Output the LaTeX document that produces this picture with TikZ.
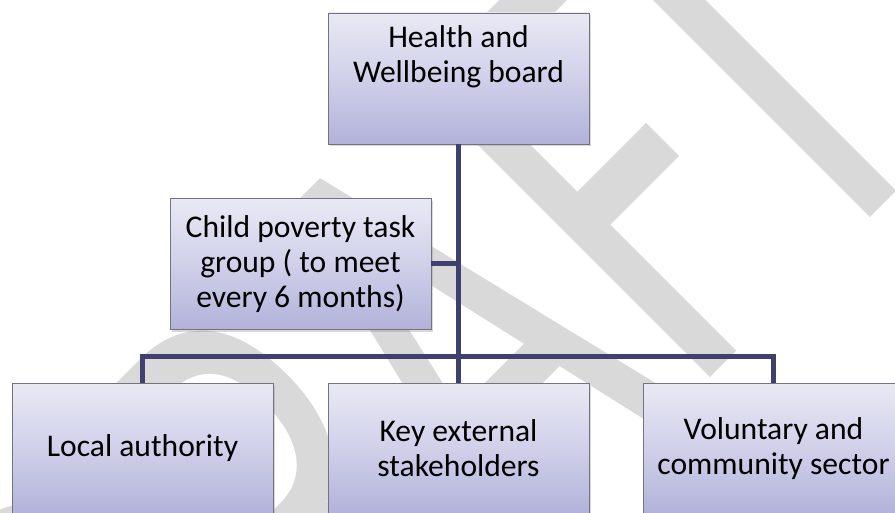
\documentclass[tikz,border=0pt]{standalone}
\usepackage{fontspec}
\setmainfont{Carlito}
\usetikzlibrary{shadows}
\definecolor{conn}{RGB}{64,64,110}
\definecolor{boxtop}{RGB}{233,233,245}
\definecolor{boxmid}{RGB}{208,208,234}
\definecolor{boxbot}{RGB}{178,178,218}
\definecolor{boxline}{RGB}{115,115,125}
\definecolor{wm}{RGB}{217,217,217}
\begin{document}
\begin{tikzpicture}[x=1pt,y=1pt,
  orgbox/.style={draw=boxline, line width=0.8pt, top color=boxtop, bottom color=boxbot, middle color=boxmid,
    minimum width=261pt, minimum height=131pt, inner sep=0pt, align=center,
    font=\fontsize{31.6}{35}\selectfont,
    drop shadow={shadow xshift=2pt, shadow yshift=-2.5pt, opacity=0.3}},
  link/.style={draw=conn, line width=5pt}]
\useasboundingbox (0,0) rectangle (895,-513);
\clip (0,0) rectangle (895,-513);
\node[rotate=45, anchor=base west, inner sep=0pt, text=wm] (wmark) at (178.2,-909.4)
  {\scalebox{1}[1.55]{\fontsize{418}{418}\selectfont DR\kern-7pt A\kern5pt F\kern-21pt T}};
\node[orgbox] (top) at (458.5,-78.5) {Health and\\Wellbeing board\\[14pt]~};
\node[orgbox] (child) at (300.5,-264) {Child poverty task\\group ( to meet\\every 6 months)};
\node[orgbox] (la) at (142.5,-448.5) {Local authority};
\node[orgbox] (vc) at (458.5,-448.5) {Key external\\stakeholders};
\node[orgbox] (vs) at (773.5,-448.5) {Voluntary and\\community sector};
\coordinate (junc) at (top.south |- child.east);
\coordinate (bar) at (458.5,-356.5);
\draw[link] (top.south) -- (vc.north);
\draw[link] (child.east) -- (junc);
\draw[link] (la.north) |- (bar) -| (vs.north);
\end{tikzpicture}
\end{document}
